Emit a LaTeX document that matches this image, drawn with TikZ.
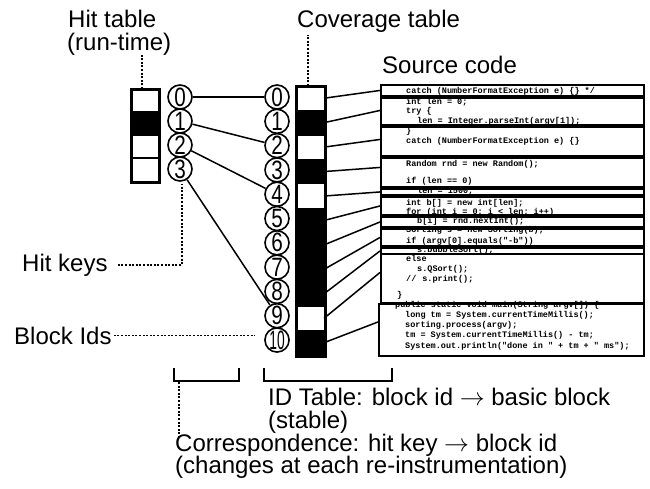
\documentclass[tikz,border=0pt]{standalone}
\usepackage{fontspec}
\usepackage{graphicx}
\setmainfont{Liberation Sans}
\setmonofont{Liberation Mono}
\newcommand{\kd}[1]{\scalebox{0.78}[1]{#1}}
\begin{document}
\begin{tikzpicture}[x=1pt,y=-1pt,
  lbl/.style={anchor=base west,inner sep=0pt,font=\fontsize{24}{26}\selectfont},
  code/.style={anchor=base west,inner sep=0pt,font=\ttfamily\bfseries\fontsize{8.5}{10}\selectfont},
  key/.style={circle,draw,line width=1.6pt,minimum size=24pt,inner sep=0pt,font=\fontsize{26.5}{26.5}\selectfont},
  lead/.style={line width=1.5pt,dash pattern=on 2pt off 1.6pt},
  link/.style={line width=1.5pt},
  srcbox/.style={draw,line width=1.9pt,anchor=north west,inner sep=0pt,minimum width=263pt},
  tab/.style={draw,line width=1.7pt,anchor=north west,inner sep=0pt},
  brk/.style={line width=1.5pt}
]
\useasboundingbox (0,0) rectangle (650,488);

% ---------- labels ----------
\node[lbl] (ht1) at (68,27) {Hit table};
\node[lbl] (ht2) at (67,50) {(run-time)};
\node[lbl] (cov) at (297,27) {Coverage table};
\node[lbl] (src) at (382,73) {Source code};
\node[lbl] (hk) at (22,271) {Hit keys};
\node[lbl] (bid) at (14,344) {Block Ids};
\node[lbl] (idt1) at (268,405) {ID Table: block id $\rightarrow$ basic block};
\node[lbl] (idt2) at (268,428) {(stable)};
\node[lbl] (cor1) at (175,451) {Correspondence: hit key $\rightarrow$ block id};
\node[lbl] (cor2) at (175,473) {(changes at each re-instrumentation)};

% ---------- hit table ----------
\node[tab,minimum width=27pt,minimum height=92pt] (hittab) at (131,89) {};
\fill[black] (131,112) rectangle (158,135);
\draw[line width=1.6pt] (131,112) -- (158,112) (131,135) -- (158,135) (131,158) -- (158,158);
\draw[line width=1.7pt] (hittab.north west) rectangle (hittab.south east);

% ---------- coverage table ----------
\node[tab,minimum width=28pt,minimum height=269pt] (covtab) at (296,86) {};
\foreach \i in {1,3,5,6,7,8,10}
  \fill[black] (296,{86+24.45*\i}) rectangle (324,{86+24.45*(\i+1)});
\foreach \i in {1,...,10}
  \draw[line width=1.2pt] (296,{86+24.45*\i}) -- (324,{86+24.45*\i});
\draw[line width=1.7pt] (covtab.north west) rectangle (covtab.south east);
\foreach \i in {0,...,10}
  \coordinate (c\i) at (324,{86+24.45*(\i+0.5)});

% ---------- hit keys ----------
\foreach \i in {0,...,3}
  \node[key] (h\i) at (180,{97+24*\i}) {\kd{\i}};

% ---------- block ids ----------
\foreach \i in {0,...,9}
  \node[key] (b\i) at (277,{97+24.3*\i}) {\kd{\i}};
\node[key] (b10) at (277,{97+24.3*10}) {\scalebox{0.52}[1]{10}};

% ---------- correspondence links ----------
\draw[link] (h0) -- (b0);
\draw[link] (h1) -- (b2);
\draw[link] (h2) -- (b4);
\draw[link] (h3) -- (b9);

% ---------- leaders ----------
\draw[lead] ([xshift=-3.5pt]hittab.north) -- ([xshift=-3.5pt]hittab.north |- ht2.south);
\draw[lead] ([xshift=-3pt]covtab.north) -- ([xshift=-3pt,yshift=-3pt]covtab.north |- cov.south);
\draw[lead] ([xshift=10pt]hk.east) -| ([xshift=2pt,yshift=-2pt]h3.south);
\draw[lead] ([xshift=2pt]bid.east) -- ([xshift=-9pt]bid.east -| b10.west);

% ---------- brackets ----------
\draw[brk] (174,368) -- (174,381) -- (239,381) -- (239,368);
\draw[brk] (264,368) -- (264,381) -- (392,381) -- (392,368);
\coordinate (brL) at (179,382);
\draw[lead] (brL) -- ([yshift=-3pt]brL |- cor1.north);

% ---------- source code text ----------
\node[code] (t0) at (406,93) {catch (NumberFormatException e) \{\} */};
\node[code] (t1) at (406,104) {int len = 0;};
\node[code] (t2) at (406,113) {try \{};
\node[code] (t3) at (417,123) {len = Integer.parseInt(argv[1]);};
\node[code] (t4) at (406,133) {\}};
\node[code] (t5) at (406,143) {catch (NumberFormatException e) \{\}};
\node[code] (t6) at (406,166) {Random rnd = new Random();};
\node[code] (t7) at (406,183) {if (len == 0)};
\node[code] (t8) at (417,193) {len = 1500;};
\node[code] (t9) at (406,205) {int b[] = new int[len];};
\node[code] (t10) at (406,214) {for (int i = 0; i < len; i++)};
\node[code] (t11) at (417,223) {b[i] = rnd.nextInt();};
\node[code] (t12) at (406,232) {Sorting s = new Sorting(b);};
\node[code] (t13) at (406,243) {if (argv[0].equals("-b"))};
\node[code] (t14) at (417,252) {s.bubbleSort();};
\node[code] (t15) at (406,261) {else};
\node[code] (t16) at (417,271) {s.QSort();};
\node[code] (t17) at (406,281) {//\hspace{6pt}s.print();};
\node[code] (t18) at (397,297) {\}};
\node[code] (t19) at (395,307) {public static void main(String argv[]) \{};
\node[code] (t20) at (405,317) {long tm = System.currentTimeMillis();};
\node[code] (t21) at (405,327) {sorting.process(argv);};
\node[code] (t22) at (405,337) {tm = System.currentTimeMillis() - tm;};
\node[code] (t23) at (405,348) {System.out.println("done in " + tm + " ms");};

% ---------- source boxes ----------
\node[srcbox,minimum height=11pt] (s0) at (380,84) {};
\node[srcbox,minimum height=27pt] (s1) at (380,97) {};
\node[srcbox,minimum height=29pt] (s2) at (380,126) {};
\node[srcbox,minimum height=29pt] (s3) at (380,157) {};
\node[srcbox,minimum height=6pt] (s4) at (380,188) {};
\node[srcbox,minimum height=18pt] (s5) at (380,196) {};
\node[srcbox,minimum height=10pt] (s6) at (380,216) {};
\node[srcbox,minimum height=17pt] (s7) at (380,228) {};
\node[srcbox,minimum height=6pt] (s8) at (380,247) {};
\node[srcbox,minimum height=49pt] (s9) at (380,253) {};
\node[srcbox,minimum height=52pt,minimum width=265pt] (s10) at (378,303) {};

% ---------- cell-to-block links ----------
\draw[link] (c0) -- (s0.west);
\draw[link] (c1) -- ([yshift=1pt]s1.west);
\draw[link] (c2) -- ([yshift=2pt]s2.west);
\draw[link] (c3) -- ([yshift=5pt]s3.west);
\draw[link] (c4) -- (s4.west);
\draw[link] (c5) -- (s5.west);
\draw[link] (c6) -- (s6.west);
\draw[link] (c7) -- (s7.west);
\draw[link] (c8) -- (s8.west);
\draw[link] (c9) -- ([yshift=6pt]s9.west);
\draw[link] (c10) -- ([yshift=8pt]s10.west);
\end{tikzpicture}
\end{document}
